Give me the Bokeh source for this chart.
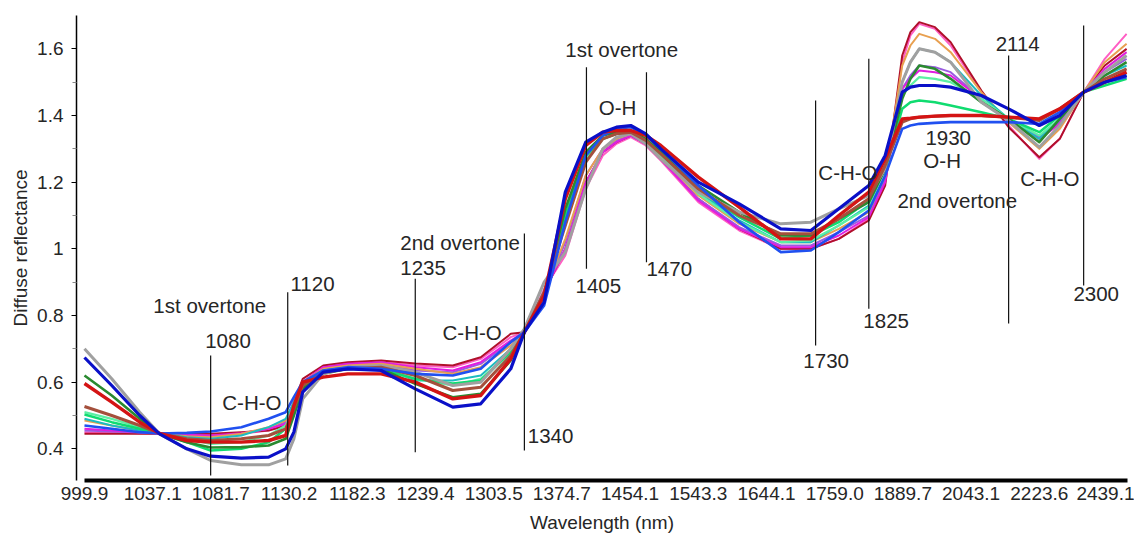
from bokeh.plotting import figure
from bokeh.models import FixedTicker, ColumnDataSource, Range1d
from bokeh.core.properties import value
from bokeh.embed import file_html
from bokeh.resources import INLINE

# ---- axis tick labels (wavelength, nm) at evenly spaced positions ----
tick_pos = list(range(16))
tick_labels = ["999.9", "1037.1", "1081.7", "1130.2", "1182.3", "1239.4", "1303.5", "1374.7",
               "1454.1", "1543.3", "1644.1", "1759.0", "1889.7", "2043.1", "2223.6", "2439.1"]
y_ticks = [0.4, 0.6, 0.8, 1.0, 1.2, 1.4, 1.6]

# ---- sample positions along the axis (tick-spacing units) ----
pos = [0.00, 0.40, 0.81, 1.10, 1.50, 1.85, 2.30, 2.70, 2.95, 3.07, 3.20, 3.50, 3.86, 4.35, 4.85,
       5.40, 5.81, 6.25, 6.45, 6.74, 7.05, 7.35, 7.60, 7.80, 8.01, 8.23, 8.45, 9.00, 9.60, 10.21,
       10.65, 11.06, 11.50, 11.74, 11.99, 12.11, 12.24, 12.47, 12.70, 13.15, 13.55, 14.00, 14.30,
       14.65, 14.96, 15.28]

# ---- spectra (diffuse reflectance) ----
pink = [0.450, 0.448, 0.447, 0.446, 0.440, 0.440, 0.445, 0.455, 0.470, 0.530, 0.600, 0.645, 0.655, 0.660, 0.650,
        0.645, 0.670, 0.735, 0.750, 0.880, 0.980, 1.180, 1.280, 1.315, 1.335, 1.310, 1.265, 1.140, 1.055, 1.000,
        1.000, 1.030, 1.090, 1.200, 1.560, 1.640, 1.675, 1.660, 1.610, 1.470, 1.370, 1.270, 1.330,
        1.470, 1.570, 1.645]
darkred = [0.445, 0.445, 0.445, 0.446, 0.445, 0.445, 0.450, 0.455, 0.470, 0.540, 0.610, 0.650, 0.660, 0.665, 0.656,
           0.650, 0.675, 0.745, 0.750, 0.870, 1.000, 1.200, 1.290, 1.320, 1.340, 1.315, 1.270, 1.150, 1.060, 1.000,
           1.000, 1.030, 1.085, 1.190, 1.580, 1.650, 1.680, 1.665, 1.620, 1.475, 1.365, 1.275, 1.330,
           1.470, 1.550, 1.600]
purple = [0.455, 0.452, 0.449, 0.446, 0.440, 0.438, 0.445, 0.460, 0.480, 0.540, 0.600, 0.640, 0.650, 0.655, 0.635,
          0.630, 0.655, 0.720, 0.750, 0.860, 1.020, 1.220, 1.300, 1.325, 1.340, 1.315, 1.270, 1.150, 1.065, 1.010,
          1.010, 1.050, 1.100, 1.210, 1.480, 1.520, 1.550, 1.545, 1.530, 1.450, 1.385, 1.335, 1.380,
          1.470, 1.530, 1.570]
magenta = [0.460, 0.455, 0.450, 0.446, 0.442, 0.440, 0.447, 0.460, 0.475, 0.530, 0.600, 0.645, 0.655, 0.660, 0.645,
           0.635, 0.660, 0.725, 0.750, 0.870, 1.000, 1.200, 1.290, 1.320, 1.340, 1.315, 1.270, 1.145, 1.060, 1.005,
           1.005, 1.040, 1.095, 1.200, 1.480, 1.510, 1.535, 1.530, 1.520, 1.450, 1.385, 1.330, 1.375,
           1.470, 1.540, 1.590]
orange = [0.485, 0.470, 0.455, 0.446, 0.438, 0.435, 0.445, 0.465, 0.485, 0.540, 0.600, 0.640, 0.650, 0.655, 0.640,
          0.625, 0.645, 0.710, 0.750, 0.870, 1.030, 1.220, 1.300, 1.330, 1.345, 1.320, 1.275, 1.160, 1.075, 1.020,
          1.020, 1.060, 1.110, 1.220, 1.550, 1.610, 1.645, 1.630, 1.590, 1.470, 1.380, 1.300, 1.360,
          1.470, 1.560, 1.615]
teal = [0.490, 0.470, 0.455, 0.446, 0.435, 0.430, 0.440, 0.465, 0.490, 0.540, 0.590, 0.635, 0.645, 0.645, 0.605,
        0.605, 0.620, 0.700, 0.750, 0.860, 1.080, 1.270, 1.330, 1.345, 1.350, 1.325, 1.285, 1.170, 1.085, 1.020,
        1.020, 1.070, 1.130, 1.240, 1.500, 1.560, 1.600, 1.590, 1.560, 1.460, 1.390, 1.330, 1.390,
        1.470, 1.520, 1.550]
mint = [0.510, 0.490, 0.465, 0.446, 0.430, 0.415, 0.420, 0.440, 0.470, 0.520, 0.580, 0.630, 0.640, 0.640, 0.610,
        0.590, 0.610, 0.690, 0.750, 0.860, 1.080, 1.270, 1.330, 1.345, 1.350, 1.325, 1.280, 1.165, 1.080, 1.020,
        1.025, 1.070, 1.125, 1.220, 1.460, 1.490, 1.515, 1.510, 1.500, 1.450, 1.390, 1.340, 1.390,
        1.470, 1.500, 1.520]
green = [0.503, 0.480, 0.460, 0.446, 0.420, 0.395, 0.400, 0.420, 0.460, 0.510, 0.580, 0.630, 0.640, 0.640, 0.610,
         0.596, 0.605, 0.690, 0.750, 0.870, 1.100, 1.280, 1.330, 1.345, 1.350, 1.325, 1.290, 1.175, 1.095, 1.030,
         1.040, 1.080, 1.145, 1.240, 1.420, 1.440, 1.445, 1.440, 1.430, 1.410, 1.390, 1.350, 1.400,
         1.470, 1.490, 1.510]
darkgreen = [0.620, 0.560, 0.490, 0.446, 0.420, 0.404, 0.405, 0.410, 0.430, 0.500, 0.580, 0.625, 0.640, 0.640, 0.595,
             0.555, 0.565, 0.665, 0.750, 0.860, 1.120, 1.290, 1.340, 1.350, 1.355, 1.330, 1.290, 1.190, 1.110, 1.040,
             1.040, 1.090, 1.140, 1.240, 1.450, 1.510, 1.550, 1.540, 1.510, 1.440, 1.390, 1.320, 1.390,
             1.470, 1.520, 1.560]
grey = [0.700, 0.610, 0.510, 0.445, 0.400, 0.365, 0.352, 0.352, 0.370, 0.430, 0.550, 0.625, 0.645, 0.650, 0.630,
        0.590, 0.600, 0.700, 0.760, 0.900, 0.990, 1.180, 1.300, 1.335, 1.345, 1.315, 1.270, 1.170, 1.110, 1.075,
        1.080, 1.120, 1.160, 1.240, 1.500, 1.560, 1.600, 1.590, 1.560, 1.440, 1.385, 1.305, 1.370,
        1.470, 1.530, 1.580]
brown = [0.527, 0.500, 0.470, 0.446, 0.430, 0.425, 0.430, 0.440, 0.460, 0.520, 0.590, 0.630, 0.640, 0.645, 0.620,
         0.575, 0.585, 0.680, 0.750, 0.870, 1.070, 1.260, 1.330, 1.345, 1.350, 1.325, 1.285, 1.180, 1.100, 1.045,
         1.045, 1.090, 1.150, 1.250, 1.380, 1.390, 1.395, 1.398, 1.400, 1.400, 1.395, 1.385, 1.420,
         1.470, 1.510, 1.540]
royal = [0.470, 0.460, 0.450, 0.446, 0.448, 0.452, 0.465, 0.490, 0.510, 0.555, 0.600, 0.635, 0.645, 0.640, 0.625,
         0.620, 0.640, 0.720, 0.750, 0.830, 1.080, 1.280, 1.340, 1.360, 1.365, 1.340, 1.300, 1.190, 1.080, 0.990,
         0.995, 1.050, 1.115, 1.220, 1.360, 1.370, 1.375, 1.378, 1.380, 1.380, 1.380, 1.375, 1.410,
         1.470, 1.500, 1.515]
red = [0.596, 0.540, 0.480, 0.446, 0.425, 0.420, 0.420, 0.425, 0.440, 0.530, 0.600, 0.615, 0.625, 0.625, 0.600,
       0.550, 0.560, 0.670, 0.750, 0.860, 1.150, 1.310, 1.350, 1.355, 1.355, 1.340, 1.310, 1.215, 1.125, 1.030,
       1.030, 1.100, 1.170, 1.270, 1.390, 1.392, 1.395, 1.398, 1.400, 1.400, 1.395, 1.390, 1.420,
       1.470, 1.500, 1.530]
navy = [0.674, 0.590, 0.500, 0.445, 0.400, 0.378, 0.372, 0.375, 0.400, 0.450, 0.570, 0.630, 0.640, 0.635, 0.580,
        0.525, 0.535, 0.640, 0.750, 0.840, 1.170, 1.320, 1.350, 1.365, 1.370, 1.345, 1.300, 1.200, 1.135, 1.060,
        1.055, 1.120, 1.190, 1.280, 1.470, 1.485, 1.490, 1.490, 1.485, 1.460, 1.420, 1.370, 1.400,
        1.470, 1.500, 1.520]

series = [
    (pink, "#ff5ec4", 2.0), (darkred, "#b0102a", 2.0), (purple, "#9a5ce0", 2.0),
    (magenta, "#e01ee0", 2.0), (orange, "#e8a050", 2.0), (teal, "#1cbcc0", 2.0),
    (mint, "#5cf0a4", 2.2), (green, "#10dc70", 2.5), (darkgreen, "#2a8a30", 2.6),
    (grey, "#a0a0a0", 3.0), (brown, "#a4503c", 3.0), (royal, "#2050f0", 2.6),
    (red, "#d41414", 3.4), (navy, "#0a10c8", 3.2),
]

# ---- band annotations: wavelength markers (vertical lines) ----
mark_x = [1.85, 2.98, 4.85, 6.45, 7.36, 8.24, 10.72, 11.50, 13.55, 14.65]
mark_y0 = [0.68, 0.87, 0.91, 1.046, 1.545, 1.53, 1.445, 1.57, 1.58, 1.67]
mark_y1 = [0.32, 0.35, 0.39, 0.395, 0.94, 0.96, 0.71, 0.82, 0.776, 0.89]

ann_text = ["1st overtone", "1080", "1120", "C-H-O", "2nd overtone", "1235", "C-H-O", "1340",
            "1st overtone", "O-H", "1405", "1470", "1730", "1825", "C-H-O", "1930", "O-H",
            "2nd overtone", "2114", "C-H-O", "2300"]
ann_x = [1.01, 1.77, 3.02, 2.02, 4.63, 4.63, 5.25, 6.50,
         7.05, 7.54, 7.20, 8.24, 10.54, 11.42, 10.76, 12.33, 12.30,
         11.92, 13.36, 13.72, 14.50]
ann_y = [0.83, 0.725, 0.896, 0.539, 1.019, 0.944, 0.749, 0.44,
         1.598, 1.424, 0.89, 0.941, 0.665, 0.785, 1.229, 1.334, 1.265,
         1.145, 1.616, 1.211, 0.866]

FONT = "Liberation Sans"
TXT = "#262626"

p = figure(width=1134, height=536, output_backend="svg", toolbar_location=None,
           x_range=Range1d(-0.117, 15.293), y_range=Range1d(0.305, 1.700),
           min_border_left=76, min_border_right=7, min_border_top=15, min_border_bottom=56)
p.outline_line_color = None
p.grid.grid_line_color = None
p.background_fill_color = "white"

for ys, col, w in series:
    p.line(pos, ys, line_color=col, line_width=w, line_join="round")

p.segment(x0=mark_x, y0=mark_y0, x1=mark_x, y1=mark_y1, line_color="#111111", line_width=1.2)

src = ColumnDataSource(dict(x=ann_x, y=ann_y, t=ann_text))
p.text(x="x", y="y", text="t", source=src, text_font=value(FONT), text_font_size="20.5px",
       text_color=TXT, text_align="left", text_baseline="middle")

# x axis
xa = p.xaxis[0]
xa.ticker = FixedTicker(ticks=tick_pos)
xa.major_label_overrides = {i: lab for i, lab in zip(tick_pos, tick_labels)}
xa.bounds = (0, 15.293)
xa.axis_line_width = 4
xa.axis_line_color = "black"
xa.major_tick_line_color = None
xa.minor_tick_line_color = None
xa.major_tick_out = 0
xa.major_tick_in = 0
xa.major_label_standoff = 6
xa.major_label_text_font = FONT
xa.major_label_text_font_size = "19px"
xa.major_label_text_color = TXT
xa.axis_label = "Wavelength (nm)"
xa.axis_label_text_font = FONT
xa.axis_label_text_font_size = "19px"
xa.axis_label_text_font_style = "normal"
xa.axis_label_text_color = TXT
xa.axis_label_standoff = 9

# y axis
ya = p.yaxis[0]
ya.ticker = FixedTicker(ticks=y_ticks, minor_ticks=[0.5, 0.7, 0.9, 1.1, 1.3, 1.5])
ya.major_label_overrides = {1: "1"}
ya.axis_line_width = 1.5
ya.axis_line_color = "black"
ya.major_tick_out = 5
ya.major_tick_in = 0
ya.minor_tick_out = 4
ya.minor_tick_in = 0
ya.minor_tick_line_color = "#888888"
ya.major_label_standoff = 8
ya.major_label_text_font = FONT
ya.major_label_text_font_size = "19px"
ya.major_label_text_color = TXT
ya.axis_label = "Diffuse reflectance"
ya.axis_label_text_font = FONT
ya.axis_label_text_font_size = "19px"
ya.axis_label_text_font_style = "normal"
ya.axis_label_text_color = TXT
ya.axis_label_standoff = 3

open("out.html", "w").write(file_html(p, INLINE))
